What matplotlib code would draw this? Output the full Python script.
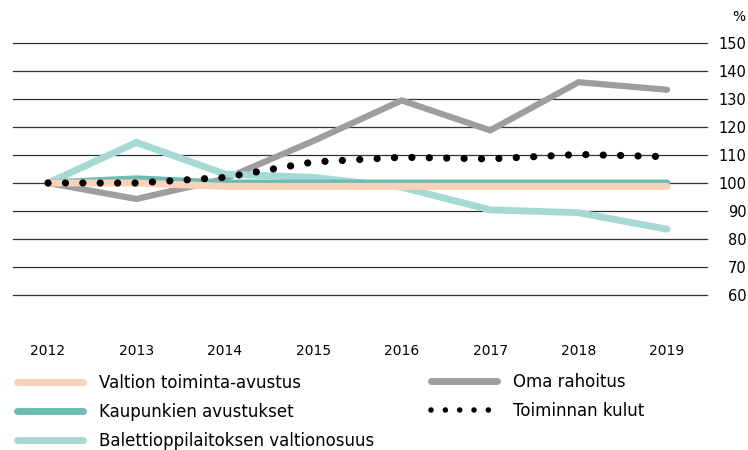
import matplotlib.pyplot as plt
from matplotlib.lines import Line2D

years = [2012, 2013, 2014, 2015, 2016, 2017, 2018, 2019]
valtion = [100, 100, 98.8, 98.8, 98.8, 98.8, 98.8, 98.8]
kaupunkien = [100, 101.5, 100, 100, 100, 100, 100, 100]
baletti = [100, 114.5, 103.2, 102, 98.5, 90.4, 89.4, 83.5]
oma = [100, 94.3, 101.5, 115, 129.5, 118.8, 136, 133.3]
kulut = [100, 100, 102, 107.5, 109.2, 108.6, 110.2, 109.4]

labels = ["Valtion toiminta-avustus", "Kaupunkien avustukset",
          "Balettioppilaitoksen valtionosuus", "Oma rahoitus", "Toiminnan kulut"]
yticks = [60, 70, 80, 90, 100, 110, 120, 130, 140, 150]

c_peach = "#F8D2B9"
c_teal = "#6CBCB4"
c_light = "#A7D9D4"
c_gray = "#9E9E9E"

fig = plt.figure(figsize=(7.48, 4.5), dpi=100)
ax = fig.add_axes([13/748, 1 - 295/450, (707 - 13)/748, (295 - 43)/450])

for y in yticks:
    ax.axhline(y, color="#333333", lw=0.9, zorder=1, clip_on=False)

ax.plot(years, oma, color=c_gray, lw=4.5, solid_capstyle='round', solid_joinstyle='miter', zorder=2)
ax.plot(years, baletti, color=c_light, lw=5, solid_capstyle='round', solid_joinstyle='miter', zorder=3)
ax.plot(years, kaupunkien, color=c_teal, lw=5, solid_capstyle='round', zorder=4)
ax.plot(years, valtion, color=c_peach, lw=5, solid_capstyle='round', zorder=5)
ax.plot(years, kulut, color="black", lw=5.2, linestyle=(0, (0.01, 2.4)),
        dash_capstyle='round', zorder=6)

ax.set_xlim(2012 - 35/88.43, 2019 + 40/88.43)
ax.set_ylim(60, 150)
for s in ax.spines.values():
    s.set_visible(False)

ax.set_xticks(years)
ax.set_xticklabels([str(y) for y in years])
ax.tick_params(axis='x', length=0, pad=35, labelsize=10)

ax.yaxis.tick_right()
ax.set_yticks(yticks)
ax.tick_params(axis='y', length=0, pad=28.5, labelsize=10.5)
for t in ax.get_yticklabels():
    t.set_horizontalalignment('right')

fig.text(745/748, 1 - 17/450, "%", ha='right', va='center', fontsize=10)

h_left = [
    Line2D([], [], color=c_peach, lw=5, solid_capstyle='round'),
    Line2D([], [], color=c_teal, lw=5, solid_capstyle='round'),
    Line2D([], [], color=c_light, lw=5, solid_capstyle='round'),
]
h_right = [
    Line2D([], [], color=c_gray, lw=5, solid_capstyle='round'),
    Line2D([], [], color="black", lw=4, linestyle=(0, (0.01, 2.57)), dash_capstyle='round'),
]
common = dict(frameon=False, fontsize=12, handlelength=4.0, handletextpad=0.95,
              labelspacing=0.65, borderaxespad=0, borderpad=0, loc='center left')
leg1 = fig.legend(h_left, labels[:3], bbox_to_anchor=(16.5/748, 1 - 412/450), **common)
leg2 = fig.legend(h_right, labels[3:], bbox_to_anchor=(430.5/748, 1 - 396.5/450), **common)

fig.savefig("out.png", dpi=100)
